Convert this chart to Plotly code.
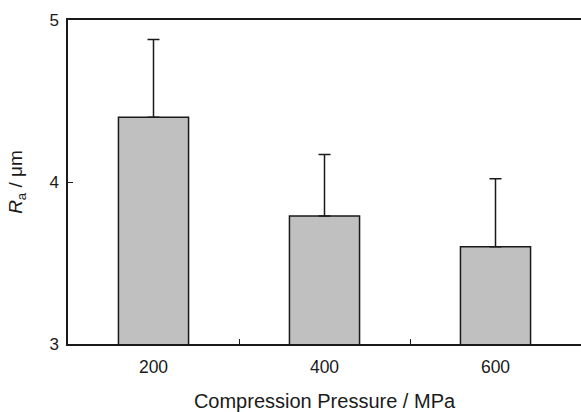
import plotly.graph_objects as go

categories = ["200", "400", "600"]
ra_values = [4.40, 3.79, 3.60]
ra_errors = [0.48, 0.38, 0.42]
y_ticks = [3, 4, 5]

fig = go.Figure()
fig.add_trace(go.Bar(
    x=categories,
    y=ra_values,
    width=0.41,
    marker=dict(color="#c0c0c0", line=dict(color="#1a1a1a", width=1.5)),
    error_y=dict(type="data", array=ra_errors, arrayminus=[0] * len(ra_errors),
                 symmetric=False, color="#1a1a1a", thickness=1.5, width=6),
))

font = dict(family="Liberation Sans, Arial, sans-serif", color="#1a1a1a")

fig.update_layout(
    width=581, height=412,
    margin=dict(l=68, r=0, t=20, b=68),
    paper_bgcolor="white", plot_bgcolor="white",
    showlegend=False,
    font=dict(size=17, **font),
)
fig.update_xaxes(
    type="category",
    range=[-0.5, 2.5],
    showline=True, linecolor="#1a1a1a", linewidth=1.5, mirror=True,
    ticks="inside", tickson="boundaries", ticklen=5, tickcolor="#1a1a1a", tickwidth=1,
    showgrid=False,
    tickfont=dict(size=17.5, **font),
    ticklabelstandoff=6,
    title=dict(text="Compression Pressure / MPa", font=dict(size=20, **font), standoff=20),
)
fig.update_yaxes(
    range=[3, 5],
    tickvals=y_ticks,
    showline=True, linecolor="#1a1a1a", linewidth=1.5, mirror=False,
    ticks="inside", ticklen=5, tickcolor="#1a1a1a", tickwidth=1,
    showgrid=False, zeroline=False,
    tickfont=dict(size=17, **font),
    ticklabelstandoff=4,
    title=dict(text="<i>R</i><sub>a</sub> / μm", font=dict(size=19, **font), standoff=22),
)
fig.write_html("out.html", config={"displayModeBar": False},
               post_script="document.body.style.margin='0';document.body.style.overflow='hidden';")
